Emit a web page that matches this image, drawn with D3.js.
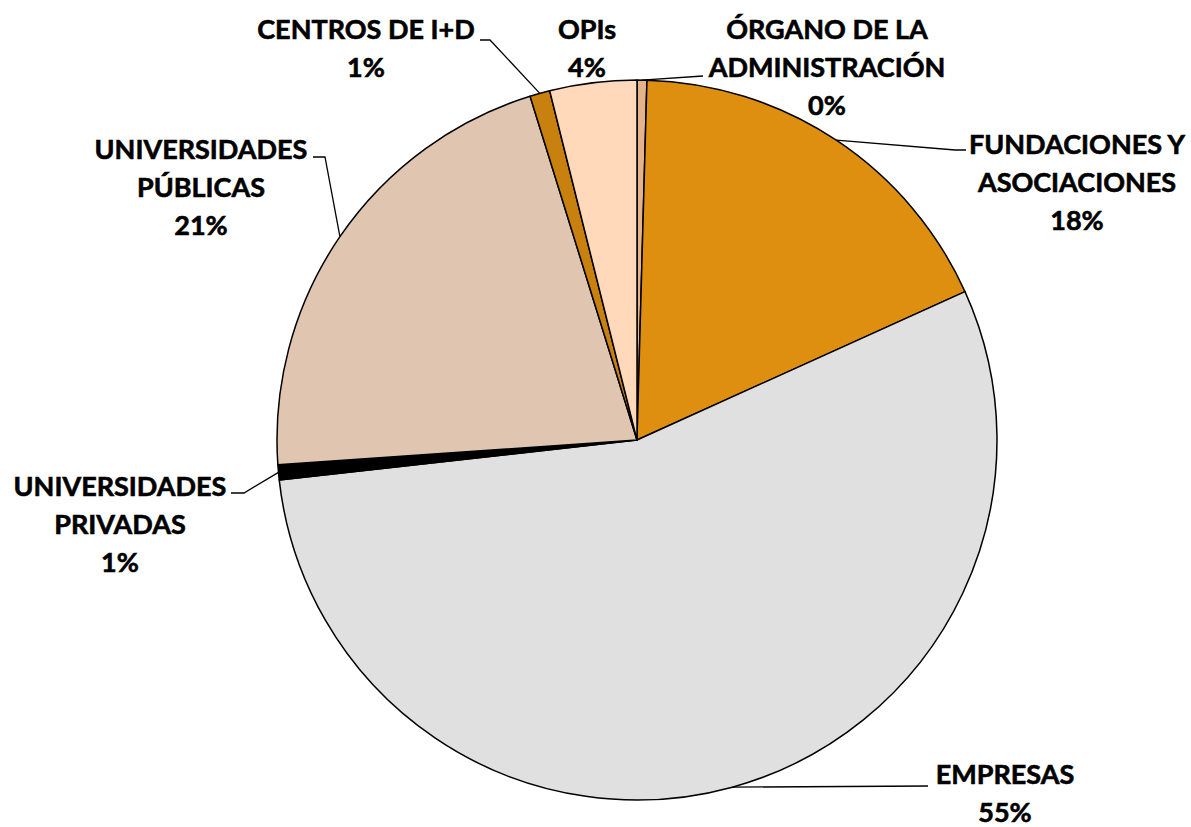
<!DOCTYPE html>
<html>
<head>
<meta charset="utf-8">
<script src="https://cdn.jsdelivr.net/npm/d3@7"></script>
<style>
  html, body { margin: 0; padding: 0; background: #fff; }
  svg { display: block; }
  .lbl { font-family: Lato, "Open Sans", sans-serif; font-weight: 700; font-size: 27px; fill: #000; stroke: #000; stroke-width: 0.6px; }
</style>
</head>
<body>
<svg id="chart" width="1191" height="827"></svg>
<script>
// categories and their shares (percent), clockwise from 12 o'clock
const categories = [
  ['ÓRGANO DE LA', 'ADMINISTRACIÓN'],
  ['FUNDACIONES Y', 'ASOCIACIONES'],
  ['EMPRESAS'],
  ['UNIVERSIDADES', 'PRIVADAS'],
  ['UNIVERSIDADES', 'PÚBLICAS'],
  ['CENTROS DE I+D'],
  ['OPIs']
];
const values = [0.44, 17.8, 55.0, 0.67, 21.3, 0.9, 3.9];
const colors = ['#E3B48C', '#DE8F10', '#E0E0E0', '#000000', '#E0C6B0', '#C8800E', '#FFD9BA'];

const width = 1191, height = 827;
const cx = 637, cy = 440, radius = 360;

const svg = d3.select('#chart');
const g = svg.append('g').attr('transform', `translate(${cx},${cy})`);

const pie = d3.pie().sort(null).value(d => d);
const arcs = pie(values);
const arc = d3.arc().innerRadius(0).outerRadius(radius);

g.selectAll('path.slice')
  .data(arcs)
  .enter()
  .append('path')
  .attr('class', 'slice')
  .attr('d', arc)
  .style('fill', (d, i) => colors[i])
  .style('stroke', '#000')
  .style('stroke-width', '1.5px')
  .style('stroke-linejoin', 'round');

// label layout: text centre x, first line y, leader elbow and end (page coords)
const layout = [
  { x: 827, y: 30, elbow: [703, 76], end: [703, 76] },
  { x: 1077, y: 145, elbow: [955, 150], end: [966, 150] },
  { x: 1005, y: 775, elbow: [928, 786], end: [928, 786] },
  { x: 120, y: 487, elbow: [244, 493], end: [231, 493] },
  { x: 201, y: 150, elbow: [325, 157], end: [313, 157] },
  { x: 366, y: 30, elbow: [490, 40], end: [480, 40] },
  { x: 587, y: 30, elbow: null, end: null }
];
const lineGap = 38;

const labels = svg.append('g');

arcs.forEach((a, i) => {
  const L = layout[i];
  const mid = (a.startAngle + a.endAngle) / 2;
  const px = cx + radius * Math.sin(mid);
  const py = cy - radius * Math.cos(mid);

  if (L.elbow) {
    labels.append('polyline')
      .attr('points', [[px, py], L.elbow, L.end].map(p => p.join(',')).join(' '))
      .style('fill', 'none')
      .style('stroke', '#000')
      .style('stroke-width', '1.3px');
  }

  const lines = categories[i].concat([Math.round(values[i]) + '%']);
  lines.forEach((t, k) => {
    labels.append('text')
      .attr('class', 'lbl')
      .attr('x', L.x)
      .attr('y', L.y + k * lineGap)
      .attr('dy', '0.35em')
      .attr('text-anchor', 'middle')
      .text(t);
  });
});
</script>
</body>
</html>
